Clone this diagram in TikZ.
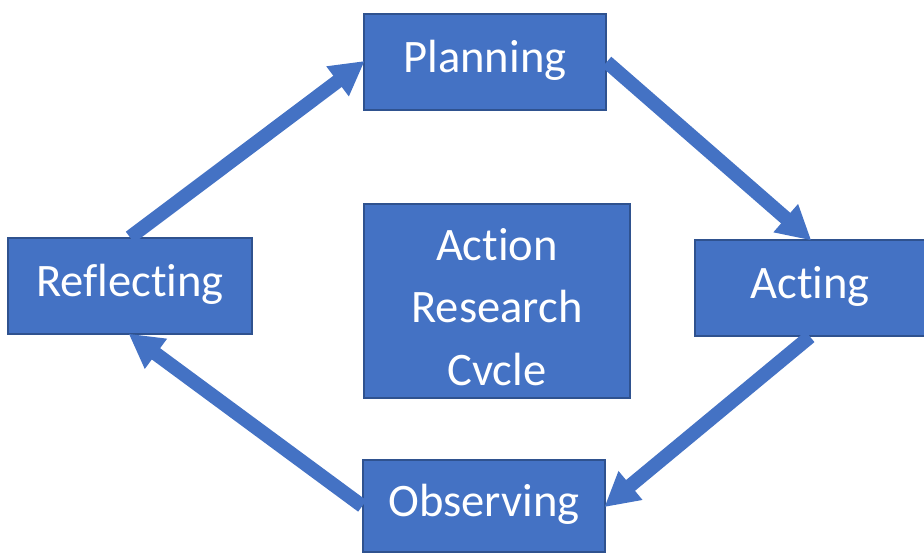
\documentclass[tikz,border=0pt]{standalone}
\usepackage[RGB]{xcolor}
\usepackage{fontspec}
\setmainfont{Carlito}[Ligatures=NoCommon]
\usetikzlibrary{arrows.meta}
\definecolor{boxfill}{RGB}{68,114,196}
\definecolor{boxline}{RGB}{47,82,143}
\tikzset{
  stage/.style={draw=boxline, line width=0.8pt, fill=boxfill, text=white, inner sep=0pt,
    font=\fontsize{26.5}{35.7}\selectfont, align=center},
  single/.style={stage, text height=19pt, text depth=7.4pt},
  flow/.style={draw=boxfill, line width=0.28cm, -{Triangle[length=0.68cm,width=0.7cm]}, shorten >=-1pt}
}
\begin{document}
\begin{tikzpicture}[x=0.02cm, y=-0.02cm]
\useasboundingbox (0,0) rectangle (924,552);
\node[single, minimum width=4.84cm, minimum height=1.92cm] (plan) at (485,62) {Planning};
\node[single, minimum width=4.6cm, minimum height=1.92cm] (act) at (810,288) {Acting};
\node[single, minimum width=4.84cm, minimum height=1.84cm] (obs) at (484,506) {Observing};
\node[single, minimum width=4.88cm, minimum height=1.92cm] (refl) at (130,286) {Reflecting};
\node[stage, minimum width=5.32cm, minimum height=3.88cm] (cycle) at (497,301) {\rule{0pt}{25pt}Action\\Research\\Cvcle};
\draw[flow] (plan.east) -- (act.north);
\draw[flow] (act.south) -- (obs.east);
\draw[flow] (obs.west) -- (refl.south);
\draw[flow] (refl.north) -- (plan.west);
\end{tikzpicture}
\end{document}
